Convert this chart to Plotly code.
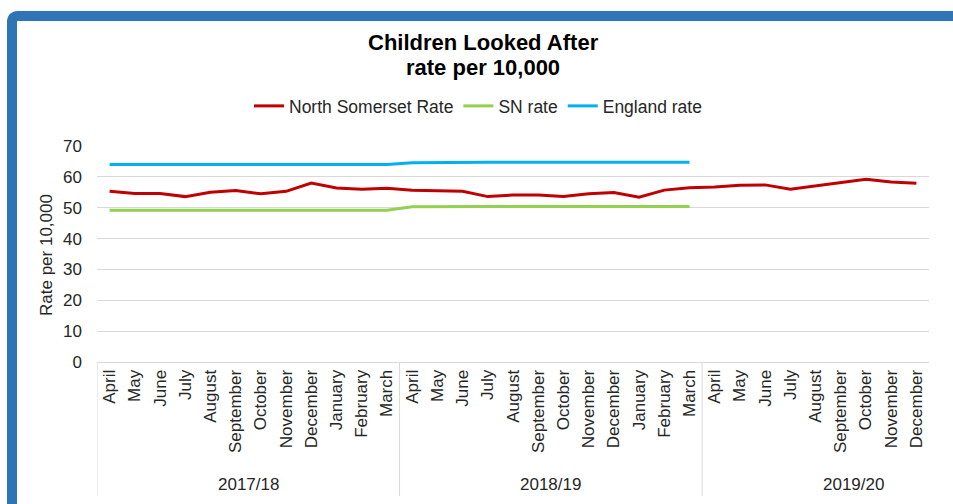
import plotly.graph_objects as go

# ---------------- data ----------------
years = ["2017/18", "2018/19", "2019/20"]
months = ["April", "May", "June", "July", "August", "September",
          "October", "November", "December", "January", "February", "March"]
months_per_year = [12, 12, 9]

north_somerset = [55.3, 54.6, 54.6, 53.6, 55.0, 55.6, 54.5, 55.3, 58.0, 56.4, 56.0, 56.3,
                  55.7, 55.6, 55.3, 53.6, 54.1, 54.1, 53.6, 54.5, 54.9, 53.4, 55.7, 56.5,
                  56.7, 57.3, 57.4, 56.0, 57.0, 58.1, 59.2, 58.3, 57.9]
sn_rate = [49.2] * 12 + [50.3] + [50.4] * 11
england_rate = [64.0] * 12 + [64.6] + [64.7] * 11

title_lines = ["Children Looked After", "rate per 10,000"]
y_title = "Rate per 10,000"

# ---------------- build categories ----------------
month_axis = []
group_start = []
for n in months_per_year:
    group_start.append(len(month_axis))
    month_axis += months[:n]
n_all = len(month_axis)
xs = list(range(n_all))


def pad(vals):
    return vals + [None] * (n_all - len(vals))


FONT = "Liberation Sans, Arial, sans-serif"
TXT = "#262626"
GRID = "#d9d9d9"

fig = go.Figure()
series = [("North Somerset Rate", north_somerset, "#C00000"),
          ("SN rate", sn_rate, "#92D050"),
          ("England rate", england_rate, "#00B0F0")]
for name, vals, col in series:
    fig.add_trace(go.Scatter(
        x=xs, y=pad(vals), name=name, mode="lines",
        line=dict(color=col, width=3), connectgaps=False))

W, H = 953, 504
ML, MR, MT, MB = 97, 24, 146, 142
pw, ph = W - ML - MR, H - MT - MB


def px2x(px):
    return (px - ML) / pw


def px2y(py):
    return (H - MB - py) / ph


fig.update_layout(
    width=W, height=H,
    margin=dict(l=ML, r=MR, t=MT, b=MB, autoexpand=False),
    paper_bgcolor="white", plot_bgcolor="white",
    font=dict(family=FONT, size=17, color=TXT),
    showlegend=True,
    legend=dict(orientation="h", xref="container", yref="container",
                x=478 / W, y=1 - 106 / H, xanchor="center", yanchor="middle",
                font=dict(size=17.5, color=TXT), bgcolor="rgba(0,0,0,0)",
                itemwidth=30, tracegroupgap=0),
)

fig.update_yaxes(range=[0, 70], dtick=10, showgrid=True, gridcolor=GRID,
                 gridwidth=1, zeroline=False, showline=False, ticks="",
                 tickfont=dict(size=17, color=TXT), automargin=False,
                 ticklabelstandoff=14)
fig.update_xaxes(range=[-0.5, n_all - 0.5], tickmode="array", tickvals=xs,
                 ticktext=month_axis, showline=True, linecolor=GRID,
                 linewidth=1, showgrid=False, zeroline=False, ticks="",
                 tickangle=-90, tickfont=dict(size=17, color=TXT),
                 automargin=False)

annotations = [
    dict(text="<b>" + title_lines[0] + "</b>", x=px2x(483), y=px2y(42),
         xref="paper", yref="paper", showarrow=False, xanchor="center",
         yanchor="middle", font=dict(size=22, color="black", family=FONT)),
    dict(text="<b>" + title_lines[1] + "</b>", x=px2x(483), y=px2y(68),
         xref="paper", yref="paper", showarrow=False, xanchor="center",
         yanchor="middle", font=dict(size=22, color="black", family=FONT)),
    dict(text=y_title, x=px2x(46), y=px2y(255), xref="paper", yref="paper",
         showarrow=False, textangle=-90, xanchor="center", yanchor="middle",
         font=dict(size=17, color=TXT, family=FONT)),
]
# year group labels (centred on a 12-month block, as in the source chart)
for yr, start in zip(years, group_start):
    annotations.append(dict(text=yr, x=start + 5.5, y=px2y(484), xref="x",
                            yref="paper", showarrow=False, xanchor="center",
                            yanchor="middle",
                            font=dict(size=17, color=TXT, family=FONT)))
fig.update_layout(annotations=annotations)

# group dividers below the axis
for start in group_start:
    fig.add_shape(type="line", xref="x", yref="paper", x0=start - 0.5,
                  x1=start - 0.5, y0=0, y1=px2y(496),
                  line=dict(color=GRID, width=1))

# decorative frame (blue border, top-left rounded corner)
lx, ty = px2x(12), px2y(16)
r = 6
path = (f"M {lx},{px2y(520)} L {lx},{px2y(16 + r)} "
        f"Q {lx},{ty} {px2x(12 + r)},{ty} L {px2x(970)},{ty}")
fig.add_shape(type="path", path=path, xref="paper", yref="paper",
              line=dict(color="#2E75B6", width=10), layer="above")

fig.write_html("out.html")
